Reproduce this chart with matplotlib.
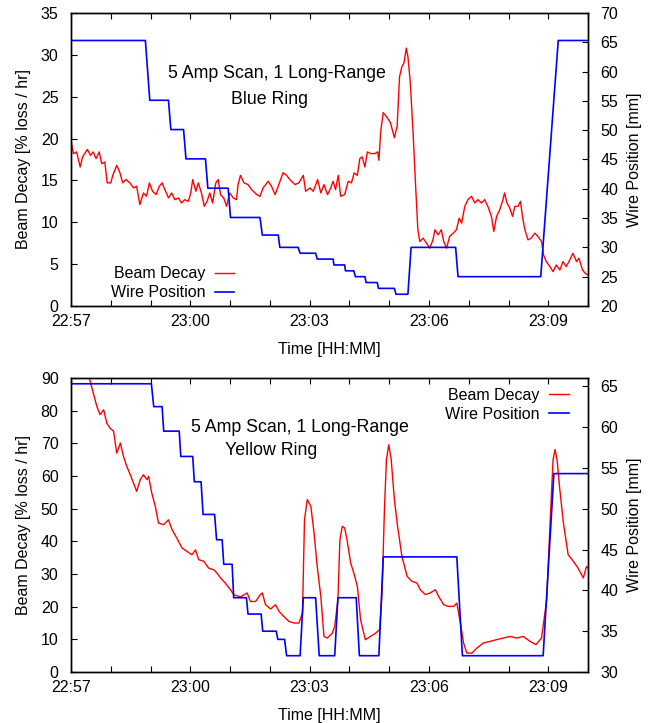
import numpy as np
import matplotlib
matplotlib.use("Agg")
import matplotlib.pyplot as plt

plt.rcParams['font.family'] = ['Liberation Sans', 'DejaVu Sans']

# time axis: minutes after 22:57
tick_pos = [0, 3, 6, 9, 12]
tick_lbl = ["22:57", "23:00", "23:03", "23:06", "23:09"]

# ---- Blue ring: beam decay [% loss / hr] ----
blue_t = [0.00, 0.06, 0.14, 0.23, 0.29, 0.41, 0.49, 0.56, 0.63, 0.71, 0.77, 0.85, 0.91, 1.00,
          1.05, 1.15, 1.23, 1.30, 1.38, 1.48, 1.57, 1.65, 1.73, 1.82, 1.90, 1.97, 2.05, 2.14,
          2.22, 2.29, 2.36, 2.45, 2.53, 2.61, 2.70, 2.78, 2.86, 2.95, 3.01, 3.06, 3.14, 3.20,
          3.28, 3.35, 3.42, 3.49, 3.56, 3.64, 3.70, 3.76, 3.84, 3.91, 3.99, 4.08, 4.16, 4.20,
          4.26, 4.35, 4.45, 4.54, 4.67, 4.75, 4.83, 4.96, 5.04, 5.13, 5.21, 5.33, 5.42, 5.50,
          5.63, 5.73, 5.84, 5.90, 6.01, 6.09, 6.20, 6.28, 6.36, 6.45, 6.53, 6.59, 6.65, 6.72,
          6.78, 6.88, 6.97, 7.05, 7.12, 7.20, 7.26, 7.32, 7.39, 7.45, 7.54, 7.64, 7.71, 7.74,
          7.79, 7.85, 7.95, 8.03, 8.13, 8.20, 8.26, 8.32, 8.37, 8.43, 8.47, 8.53, 8.60, 8.66,
          8.72, 8.77, 8.85, 8.94, 9.02, 9.10, 9.15, 9.23, 9.31, 9.37, 9.44, 9.52, 9.61, 9.69,
          9.76, 9.82, 9.90, 9.98, 10.07, 10.15, 10.23, 10.32, 10.40, 10.48, 10.57, 10.63,
          10.70, 10.78, 10.86, 10.90, 10.96, 11.03, 11.10, 11.16, 11.24, 11.30, 11.35, 11.41,
          11.49, 11.57, 11.66, 11.74, 11.83, 11.88, 11.95, 12.04, 12.12, 12.20, 12.29, 12.37,
          12.45, 12.54, 12.62, 12.71, 12.77, 12.86, 12.93, 13.00]
blue_decay = [19.8, 18.2, 18.4, 16.6, 17.8, 18.7, 18.0, 18.4, 17.6, 18.4, 17.0, 17.2, 14.7, 14.7,
              15.6, 16.8, 15.9, 14.7, 15.1, 14.7, 14.1, 14.3, 12.1, 13.5, 13.1, 14.7, 13.7, 13.3,
              14.3, 14.7, 13.9, 12.9, 13.5, 12.7, 12.9, 12.3, 12.7, 12.5, 13.5, 15.1, 13.7, 14.7,
              13.5, 11.9, 12.5, 13.5, 12.3, 14.7, 15.1, 13.3, 12.9, 11.9, 13.5, 12.9, 12.7, 14.5,
              15.6, 14.7, 14.5, 13.9, 13.3, 13.1, 14.1, 14.9, 14.3, 13.3, 14.3, 15.9, 15.6, 15.1,
              14.5, 14.7, 15.6, 13.7, 14.1, 13.7, 15.1, 13.5, 14.5, 13.3, 14.1, 14.9, 13.9, 15.6,
              13.1, 13.3, 14.9, 14.7, 15.9, 15.6, 17.6, 17.8, 16.6, 18.4, 18.2, 18.2, 18.4, 17.4,
              21.0, 23.1, 22.5, 21.9, 20.1, 21.5, 27.4, 28.6, 29.0, 30.8, 29.8, 26.7, 20.7, 14.7,
              9.1, 7.7, 8.1, 7.5, 6.9, 7.9, 9.1, 8.5, 9.1, 7.7, 6.9, 8.3, 8.7, 9.1,
              10.5, 9.9, 11.9, 12.7, 13.1, 12.3, 12.7, 12.3, 12.7, 11.9, 10.7, 8.9,
              10.7, 11.5, 12.7, 13.5, 12.3, 11.7, 10.7, 11.9, 11.9, 12.5, 10.7, 9.1,
              7.9, 8.1, 8.7, 8.3, 7.7, 6.1, 5.3, 4.7, 4.1, 4.9, 4.3, 5.3,
              4.7, 5.5, 6.3, 5.3, 5.7, 4.3, 3.9, 3.7]

# ---- Blue ring: wire position [mm] ----
blue_wire_t = [0.00, 1.87, 1.98, 2.45, 2.51, 2.83, 2.89, 3.38, 3.44, 3.95, 4.01, 4.75, 4.81,
               5.21, 5.25, 5.71, 5.76, 6.15, 6.19, 6.59, 6.61, 6.88, 6.90, 7.11, 7.15, 7.39,
               7.42, 7.70, 7.73, 8.13, 8.17, 8.47, 8.55, 9.67, 9.73, 11.81, 12.25, 13.00]
blue_wire = [65.3, 65.3, 55.1, 55.1, 50.1, 50.1, 45.1, 45.1, 40.1, 40.1, 35.1, 35.1, 32.1,
             32.1, 30.0, 30.0, 29.0, 29.0, 28.0, 28.0, 27.0, 27.0, 26.0, 26.0, 25.0, 25.0,
             24.0, 24.0, 23.0, 23.0, 22.0, 22.0, 30.0, 30.0, 25.0, 25.0, 65.3, 65.3]

# ---- Yellow ring: beam decay [% loss / hr] ----
yel_t = [0.40, 0.46, 0.56, 0.65, 0.73, 0.82, 0.90, 0.98, 1.07, 1.15, 1.24, 1.32, 1.40, 1.49,
         1.57, 1.65, 1.74, 1.82, 1.91, 1.95, 2.03, 2.12, 2.20, 2.33, 2.45, 2.54, 2.66, 2.79,
         2.92, 3.04, 3.13, 3.21, 3.34, 3.46, 3.59, 3.67, 3.76, 3.88, 4.01, 4.09, 4.26, 4.43,
         4.51, 4.64, 4.76, 4.81, 4.89, 5.02, 5.14, 5.23, 5.35, 5.48, 5.61, 5.73, 5.82, 5.87,
         5.94, 6.03, 6.11, 6.19, 6.28, 6.36, 6.44, 6.57, 6.63, 6.71, 6.76, 6.82, 6.88, 6.94,
         7.03, 7.11, 7.20, 7.28, 7.40, 7.53, 7.66, 7.76, 7.82, 7.88, 7.93, 7.99, 8.05, 8.13,
         8.21, 8.32, 8.45, 8.57, 8.70, 8.78, 8.91, 9.03, 9.16, 9.24, 9.37, 9.49, 9.62, 9.70,
         9.79, 9.87, 9.95, 10.08, 10.20, 10.37, 10.54, 10.70, 10.87, 11.04, 11.21, 11.37,
         11.54, 11.69, 11.83, 11.96, 12.06, 12.12, 12.17, 12.22, 12.29, 12.38, 12.50, 12.63,
         12.75, 12.88, 12.96, 13.00]
yel_decay = [93.0, 90.0, 85.4, 81.3, 78.8, 80.3, 76.2, 74.7, 73.7, 67.0, 70.1, 66.0, 63.0, 60.4,
             57.9, 55.3, 58.9, 60.4, 58.9, 59.9, 54.8, 50.7, 45.6, 45.1, 46.6, 43.6, 41.0, 38.0,
             36.9, 35.9, 37.4, 34.4, 33.9, 31.8, 31.3, 30.3, 28.8, 27.2, 25.2, 23.7, 23.0, 24.2,
             21.6, 21.6, 23.7, 24.2, 20.6, 19.3, 20.6, 18.6, 17.0, 15.5, 15.0, 15.0, 18.1, 46.6,
             52.8, 50.7, 42.6, 32.3, 23.2, 10.9, 10.4, 11.9, 14.0, 22.1, 40.5, 44.6, 44.1, 40.5,
             33.4, 30.3, 26.2, 16.0, 9.9, 10.9, 11.9, 13.0, 24.2, 49.7, 65.0, 69.6, 65.0, 52.8,
             44.6, 35.4, 29.3, 27.8, 27.2, 25.2, 23.7, 24.2, 25.2, 23.2, 20.6, 20.1, 20.1, 21.1,
             15.0, 8.9, 5.8, 5.8, 7.3, 8.9, 9.4, 9.9, 10.4, 10.9, 10.4, 10.9,
             9.4, 8.4, 10.4, 22.1, 49.7, 65.0, 68.1, 65.0, 55.8, 45.6, 35.9, 33.9,
             31.8, 28.8, 32.3, 31.8]

# ---- Yellow ring: wire position [mm] ----
yel_wire_t = [0.00, 2.02, 2.08, 2.29, 2.33, 2.72, 2.76, 3.06, 3.10, 3.27, 3.32, 3.61, 3.66,
              3.80, 3.84, 4.05, 4.09, 4.41, 4.45, 4.78, 4.82, 5.16, 5.20, 5.37, 5.42, 5.76,
              5.84, 6.15, 6.24, 6.63, 6.71, 7.17, 7.25, 7.74, 7.85, 9.70, 9.84, 11.87, 12.14,
              13.00]
yel_wire = [65.3, 65.3, 62.5, 62.5, 59.5, 59.5, 56.4, 56.4, 53.3, 53.3, 49.3, 49.3, 46.2,
            46.2, 43.2, 43.2, 39.1, 39.1, 37.1, 37.1, 35.0, 35.0, 34.0, 34.0, 32.0, 32.0,
            39.1, 39.1, 32.0, 32.0, 39.1, 39.1, 32.0, 32.0, 44.1, 44.1, 32.0, 32.0, 54.3,
            54.3]

FS = 11.5


def style_axes(ax, ax2):
    ax.set_xlim(0, 13)
    ax.set_xticks(tick_pos)
    ax.set_xticklabels(tick_lbl)
    ax.set_xticks(np.arange(0, 14), minor=True)
    ax.tick_params(axis='x', which='both', direction='in', top=True, length=4, width=0.8,
                   labelsize=FS, pad=6)
    ax.tick_params(axis='y', direction='in', length=4, width=0.8, labelsize=FS, right=False,
                   pad=9)
    ax2.tick_params(axis='y', direction='in', length=4, width=0.8, labelsize=FS, pad=9)
    for a in (ax, ax2):
        for s in a.spines.values():
            s.set_linewidth(1.0)
    ax.set_xlabel("Time [HH:MM]", fontsize=FS, labelpad=9)
    ax.set_ylabel("Beam Decay [% loss / hr]", fontsize=FS, labelpad=7)
    ax2.set_ylabel("Wire Position [mm]", fontsize=FS, labelpad=6)


fig = plt.figure(figsize=(6.57, 7.23), dpi=100)

# top panel: Blue ring
ax1 = fig.add_axes([0.1081, 0.5768, 0.787, 0.4053])
ax1b = ax1.twinx()
l1, = ax1.plot(blue_t, blue_decay, color='#ff0000', lw=1.0, label='Beam Decay')
l2, = ax1b.plot(blue_wire_t, blue_wire, color='#0000ff', lw=1.2, label='Wire Position')
ax1.set_ylim(0, 35)
ax1.set_yticks(np.arange(0, 36, 5))
ax1b.set_ylim(20, 70)
ax1b.set_yticks(np.arange(20, 71, 5))
style_axes(ax1, ax1b)
ax1.text(0.398, 0.795, "5 Amp Scan, 1 Long-Range", transform=ax1.transAxes,
         ha='center', va='center', fontsize=12.8)
ax1.text(0.383, 0.705, "Blue Ring", transform=ax1.transAxes,
         ha='center', va='center', fontsize=12.8)
ax1b.legend([l1, l2], ['Beam Decay', 'Wire Position'], loc='lower left',
            bbox_to_anchor=(0.053, -0.024), markerfirst=False, frameon=False,
            fontsize=FS, handlelength=1.2, handletextpad=0.6, labelspacing=0.25,
            borderpad=0.3)

# bottom panel: Yellow ring
ax2 = fig.add_axes([0.1081, 0.0705, 0.787, 0.4066])
ax2b = ax2.twinx()
l3, = ax2.plot(yel_t, yel_decay, color='#ff0000', lw=1.0, label='Beam Decay')
l4, = ax2b.plot(yel_wire_t, yel_wire, color='#0000ff', lw=1.2, label='Wire Position')
ax2.set_ylim(0, 90)
ax2.set_yticks(np.arange(0, 91, 10))
ax2b.set_ylim(30, 66)
ax2b.set_yticks(np.arange(30, 66, 5))
style_axes(ax2, ax2b)
ax2.text(0.443, 0.833, "5 Amp Scan, 1 Long-Range", transform=ax2.transAxes,
         ha='center', va='center', fontsize=12.8)
ax2.text(0.387, 0.752, "Yellow Ring", transform=ax2.transAxes,
         ha='center', va='center', fontsize=12.8)
ax2b.legend([l3, l4], ['Beam Decay', 'Wire Position'], loc='upper right',
            bbox_to_anchor=(0.987, 1.01), markerfirst=False, frameon=False,
            fontsize=FS, handlelength=1.2, handletextpad=0.6, labelspacing=0.25,
            borderpad=0.3)

fig.savefig("out.png", dpi=100)
